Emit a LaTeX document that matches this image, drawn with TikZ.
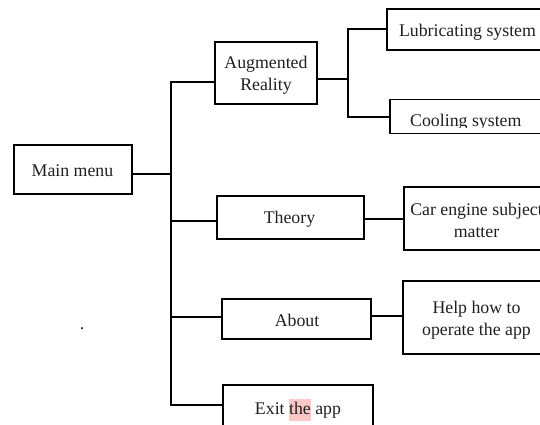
\documentclass[tikz,border=0pt]{standalone}
\usepackage{fontspec}
\setmainfont{Liberation Serif}
\definecolor{hl}{RGB}{250,198,198}
\begin{document}
\begin{tikzpicture}[x=1pt,y=-1pt,
  txt/.style={font=\fontsize{17.8}{22}\selectfont, align=center, text=black!88, inner sep=0pt},
  box/.style={draw, line width=1.7pt, inner sep=0pt},
  conn/.style={line width=1.3pt, line cap=rect}]
\useasboundingbox (0,0) rectangle (540,425);
\clip (0,0) rectangle (540,425);

% boxes
\node[box, minimum width=118, minimum height=49] (main) at (73,169.5) {};
\node[box, minimum width=102, minimum height=62] (aug) at (266,73) {};
\node[box, minimum width=161, minimum height=41] (lub) at (467.5,29.5) {};
\node[box, minimum width=155, minimum height=34] (cool) at (467.5,116.5) {};
\node[box, minimum width=147, minimum height=43] (theory) at (290.5,217.5) {};
\node[box, minimum width=145, minimum height=63] (car) at (476.5,218.5) {};
\node[box, minimum width=149, minimum height=40] (about) at (296.5,319) {};
\node[box, minimum width=147, minimum height=73] (help) at (476.5,317.5) {};
\node[box, minimum width=150, minimum height=46] (exit) at (298,408) {};

% texts
\node[txt] (maint) at (72.5,170.5) {Main menu};
\node[txt] (augt) at (266,75.5) {Augmented\\Reality};
\node[txt] (lubt) at (467.5,32) {Lubricating system};
\begin{scope}
  \clip (380,95) rectangle (545,127.5);
  \node[txt, anchor=base west] (coolt) at (410,126) {Cooling system};
\end{scope}
\node[txt] (theoryt) at (289.5,219.5) {Theory};
\node[txt] (cart) at (476.5,220) {Car engine subject\\matter};
\node[txt] (aboutt) at (297,320.5) {About};
\node[txt] (helpt) at (476.5,320) {Help how to\\operate the app};
\node[txt] (exitt) at (298,410) {Exit {\setlength{\fboxsep}{0pt}\colorbox{hl}{\strut the}} app};
\node[txt, anchor=base] (dot) at (82,329) {.};

% trunk coordinates
\coordinate (t1) at (171,82);
\coordinate (tm) at (171,174);
\coordinate (t2) at (171,221);
\coordinate (t3) at (171,317);
\coordinate (t4) at (171,405);
\coordinate (s1) at (348,29);
\coordinate (sa) at (348,79);
\coordinate (s2) at (348,117);
\coordinate (c1) at (384,219);
\coordinate (c2) at (387,316);

% connectors
\draw[conn] (t1) -- (t4);
\draw[conn] (main.east |- tm) -- (tm);
\draw[conn] (t1) -- (t1 -| aug.west);
\draw[conn] (t2) -- (t2 -| theory.west);
\draw[conn] (t3) -- (t3 -| about.west);
\draw[conn] (t4) -- (t4 -| exit.west);
\draw[conn] (s1) -- (s2);
\draw[conn] (aug.east |- sa) -- (sa);
\draw[conn] (s1) -- (s1 -| lub.west);
\draw[conn] (s2) -- (s2 -| cool.west);
\draw[conn] (c1 -| theory.east) -- (c1 -| car.west);
\draw[conn] (c2 -| about.east) -- (c2 -| help.west);
\end{tikzpicture}
\end{document}
